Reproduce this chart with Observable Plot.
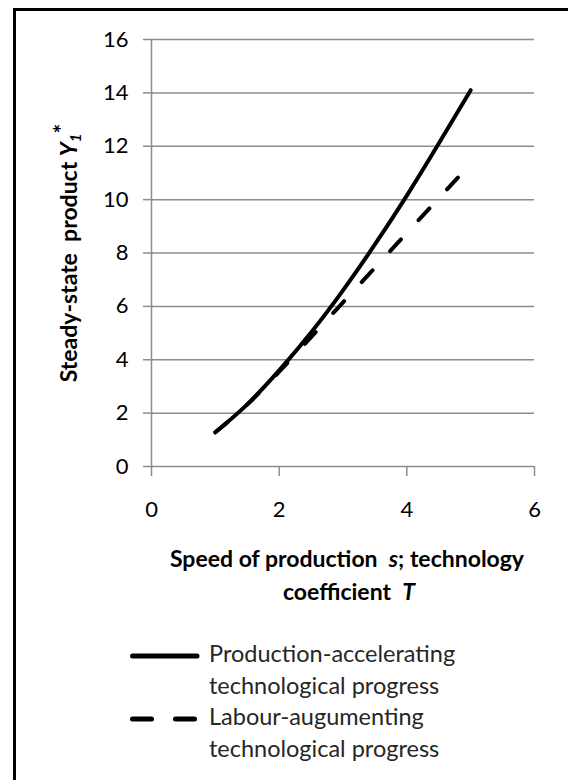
<!DOCTYPE html>
<html>
<head>
<meta charset="utf-8">
<script src="https://cdn.jsdelivr.net/npm/d3@7"></script>
<script src="https://cdn.jsdelivr.net/npm/@observablehq/plot@0.6"></script>
<style>
  html, body { margin: 0; padding: 0; background: #fff; }
  #wrap { position: relative; width: 568px; height: 780px; overflow: hidden; background: #fff; font-family: Lato, "Open Sans", sans-serif; }
  #frame { position: absolute; left: 13px; top: 8px; width: 560px; height: 800px; border-left: 3px solid #000; border-top: 3px solid #000; box-sizing: border-box; }
  #chart { position: absolute; left: 0; top: 0; }
  #legend { position: absolute; left: 126px; top: 638px; font-size: 23.5px; color: #262626; }
  .item { display: flex; align-items: flex-start; }
  .item svg { flex: none; }
  .lbl { line-height: 32px; margin-left: 9px; margin-top: -1px; }
</style>
</head>
<body>
<div id="wrap">
  <div id="frame"></div>
  <div id="chart"></div>
  <div id="legend"></div>
</div>
<script>
// ---- data ----
const speedS = [1, 1.5, 2, 2.5, 3, 3.5, 4, 4.5, 5];
const productionAccelerating = [1.28, 2.33, 3.6, 5.02, 6.6, 8.32, 10.15, 12.1, 14.1];
const labourAugmenting = [1.28, 2.32, 3.55, 4.85, 6.15, 7.45, 8.75, 10.05, 11.35];
const xTicks = [0, 2, 4, 6];
const yTicks = [0, 2, 4, 6, 8, 10, 12, 14, 16];
const seriesNames = ["Production-accelerating technological progress", "Labour-augumenting technological progress"];

const rowsA = speedS.map((s, i) => ({s, y: productionAccelerating[i]}));
const rowsB = speedS.map((s, i) => ({s, y: labourAugmenting[i]}));

const grid = "#8c8c8c";
const chart = Plot.plot({
  width: 568,
  height: 620,
  marginLeft: 151,
  marginRight: 34,
  marginTop: 39,
  marginBottom: 154,
  style: {fontFamily: "Lato, 'Open Sans', sans-serif", fontSize: "22px", color: "#000", background: "transparent"},
  x: {domain: [0, 6]},
  y: {domain: [0, 16]},
  marks: [
    Plot.ruleY(yTicks, {stroke: grid, strokeWidth: 1.5}),
    Plot.ruleX([0], {stroke: grid, strokeWidth: 1.5}),
    Plot.axisY({ticks: yTicks, tickFormat: d3.format("d"), tickSize: 8, tickPadding: 15, stroke: grid, strokeWidth: 1.5, fill: "#000", label: null}),
    Plot.axisX({ticks: xTicks, tickFormat: d3.format("d"), tickSize: 10, tickPadding: 25, stroke: grid, strokeWidth: 1.5, fill: "#000", label: null}),
    Plot.line(rowsB, {x: "s", y: "y", curve: "natural", stroke: "#000", strokeWidth: 4, strokeLinecap: "round", strokeDasharray: "16,26"}),
    Plot.line(rowsA, {x: "s", y: "y", curve: "natural", stroke: "#000", strokeWidth: 4, strokeLinecap: "round"})
  ]
});
document.getElementById("chart").appendChild(chart);

// axis titles
const svg = d3.select(chart);
const yt = svg.append("text")
  .attr("transform", "translate(77,253) rotate(-90)")
  .attr("text-anchor", "middle")
  .attr("font-weight", "bold")
  .attr("font-size", 23)
  .attr("fill", "#000")
  .style("white-space", "pre");
yt.append("tspan").text("Steady-state  product ");
yt.append("tspan").attr("font-style", "italic").text("Y");
yt.append("tspan").attr("font-style", "italic").attr("font-size", 15).attr("dy", 4).text("1");
yt.append("tspan").attr("dy", -11).text("*");

const xt = svg.append("text")
  .attr("text-anchor", "middle")
  .attr("font-weight", "bold")
  .attr("font-size", 23)
  .attr("fill", "#000")
  .style("white-space", "pre");
const l1 = xt.append("tspan").attr("x", 347).attr("y", 567);
l1.append("tspan").text("Speed of production  ");
l1.append("tspan").attr("font-style", "italic").text("s");
l1.append("tspan").text("; technology");
const l2 = xt.append("tspan").attr("x", 349).attr("y", 600);
l2.append("tspan").text("coefficient  ");
l2.append("tspan").attr("font-style", "italic").text("T");

// legend
const legend = d3.select("#legend");
const dashes = [null, "19,24"];
seriesNames.forEach((name, i) => {
  const item = legend.append("div").attr("class", "item");
  const sw = item.append("svg").attr("width", 74).attr("height", 32);
  sw.append("line").attr("x1", 6.5).attr("x2", 71).attr("y1", 18).attr("y2", 18)
    .attr("stroke", "#000").attr("stroke-width", 5).attr("stroke-linecap", "round")
    .attr("stroke-dasharray", dashes[i]);
  const parts = name.split(" technological");
  item.append("div").attr("class", "lbl").html(parts[0] + "<br>technological" + parts[1]);
});
</script>
</body>
</html>
